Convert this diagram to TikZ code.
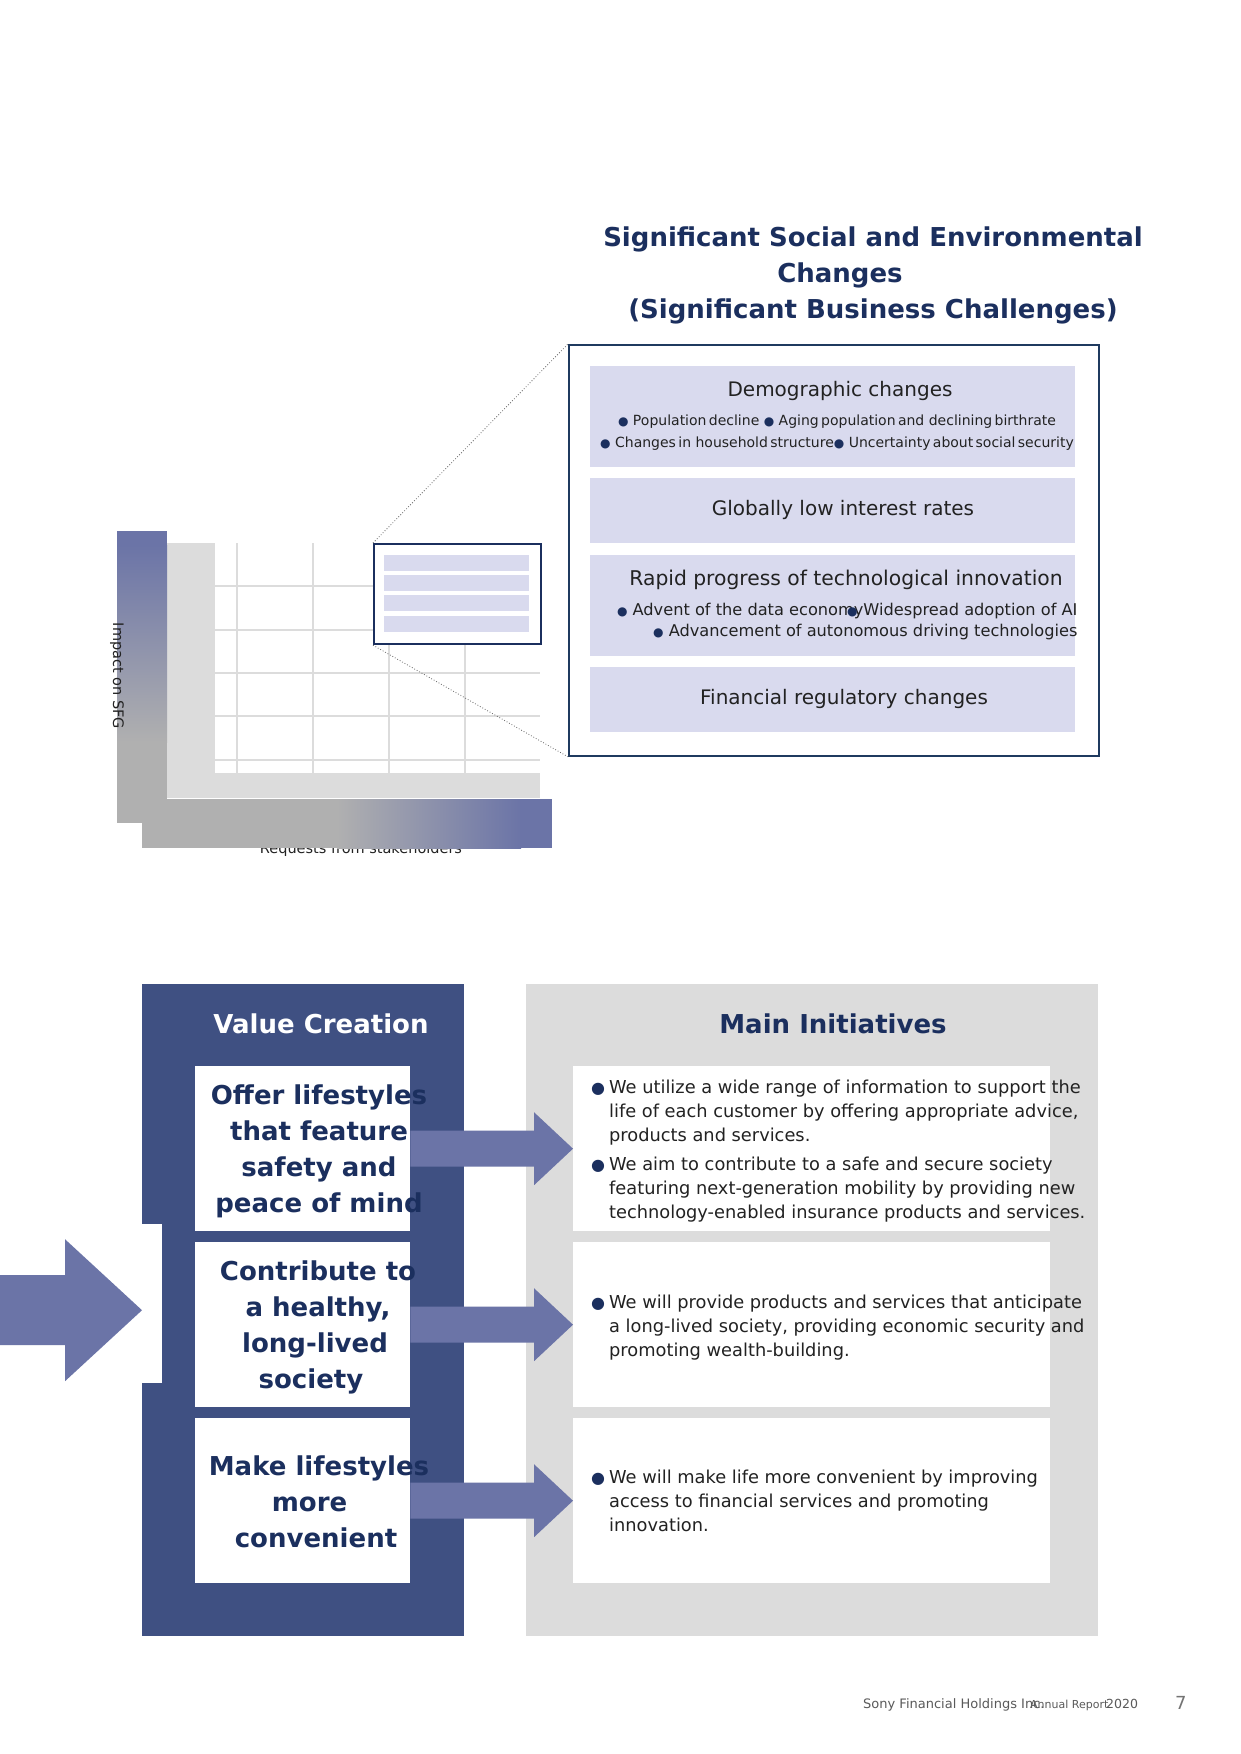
\documentclass[tikz,border=0pt]{standalone}
\usepackage{fontspec}
\setmainfont{DejaVu Sans}
\usetikzlibrary{calc}
\definecolor{sfgNavy}{HTML}{1B2F5E}
\definecolor{sfgFrame}{HTML}{1F3A5F}
\definecolor{sfgLavender}{HTML}{D9DAEE}
\definecolor{sfgPanel}{HTML}{3F5082}
\definecolor{sfgArrow}{HTML}{6B74A7}
\definecolor{sfgGrey}{HTML}{DCDCDC}
\definecolor{sfgBarGrey}{HTML}{B0B0B0}
\definecolor{sfgText}{HTML}{222222}
\definecolor{sfgFoot}{HTML}{5A5A5A}
\tikzset{
  page title/.style={font=\fontsize{26}{36}\selectfont\bfseries, text=sfgNavy, align=center},
  issue box/.style={fill=sfgLavender, minimum width=485pt, inner sep=0pt, anchor=north west},
  issue head/.style={font=\fontsize{20}{24}\selectfont, text=sfgText},
  issue points/.style={font=\fontsize{14}{22}\selectfont, text=sfgText},
  axis label/.style={font=\fontsize{14.5}{17}\selectfont, text=sfgText, inner sep=0pt},
  grid rule/.style={draw=sfgGrey, line width=1.6pt},
  zoom line/.style={draw=black!60, dotted, line width=0.8pt},
  heading/.style={font=\fontsize{26}{36}\selectfont\bfseries},
  value box/.style={fill=white, minimum width=215pt, minimum height=165pt, inner sep=0pt, anchor=north west},
  value text/.style={font=\fontsize{26}{36}\selectfont\bfseries, text=sfgNavy, align=center},
  initiative box/.style={fill=white, minimum width=477pt, minimum height=165pt, inner sep=0pt, anchor=north west},
  initiative text/.style={font=\fontsize{17.8}{24}\selectfont, text=sfgText, anchor=base west, inner sep=0pt},
  fat arrow/.style={fill=sfgArrow},
  footer/.style={text=sfgFoot, anchor=base west, inner sep=0pt}
}
\newcommand{\navyDot}{\textcolor{sfgNavy}{\fontsize{16}{16}\selectfont●}}
\newcommand{\smallDot}{\textcolor{sfgNavy}{\fontsize{12}{12}\selectfont●}}
\newcommand{\trail}[1]{\rule{#1}{0pt}}
\newcommand{\valueRow}[2]{%
  \node[value box] (#1) at (195,#2) {};%
  \node[initiative box] (#1ini) at (573,#2) {};%
}
\newcommand{\fatArrow}[2]{%
  \fill[fat arrow] ($(#1.east)+(0,-18)$) -- ($(#2.west)+(-39,-18)$)
    -- ($(#2.west)+(-39,-36.5)$) -- (#2.west) -- ($(#2.west)+(-39,36.5)$)
    -- ($(#2.west)+(-39,18)$) -- ($(#1.east)+(0,18)$) -- cycle;%
}

\begin{document}
\begin{tikzpicture}[x=1pt,y=-1pt]
  \useasboundingbox (0,0) rectangle (1241,1754);
  \fill[white] (0,0) rectangle (1241,1754);

  \node[page title] (title) at (873,275)
    {Significant Social and Environmental\\Changes\trail{66pt}\\(Significant Business Challenges)};

  % materiality chart
  \node[axis label, anchor=base] (xlab) at (361,853) {Requests from stakeholders};
  \fill[sfgGrey] (167,543) rectangle (540,798);
  \fill[white] (215,543) rectangle (540,773);
  \foreach \gx in {237,313,389,465}
    \draw[grid rule] (\gx,543) -- (\gx,773);
  \foreach \gy in {586,630,673,716,760}
    \draw[grid rule] (215,\gy) -- (540,\gy);
  \fill[sfgArrow] (117,531) rectangle (167,546);
  \shade[top color=sfgArrow, bottom color=sfgBarGrey] (117,545) rectangle (167,742);
  \fill[sfgBarGrey] (117,741) rectangle (167,823);
  \fill[sfgBarGrey] (142,799) rectangle (338,848);
  \shade[left color=sfgBarGrey, right color=sfgArrow] (337,799) rectangle (521,848);
  \fill[sfgArrow] (520,799) rectangle (552,848);
  \node[axis label, rotate=-90] (ylab) at (117,676) {Impact on SFG};

  \node[draw=sfgNavy, line width=2.2pt, fill=white, minimum width=167pt,
    minimum height=100pt, inner sep=0pt, anchor=north west] (zoombox) at (373,543) {};
  \foreach \by in {555,575,595,616}
    \fill[sfgLavender] (384,\by) rectangle (529,\by+16);

  % enlarged list of changes
  \node[draw=sfgFrame, line width=1.8pt, fill=white, minimum width=530pt,
    minimum height=411pt, inner sep=0pt, anchor=north west] (frame) at (568,344) {};
  \draw[zoom line] (zoombox.north west) -- (frame.north west);
  \draw[zoom line] (zoombox.south west) -- (frame.south west);

  \node[issue box, minimum height=101pt] (demo) at (590,366) {};
  \node[issue box, minimum height=65pt] (rates) at (590,478) {};
  \node[issue box, minimum height=101pt] (tech) at (590,555) {};
  \node[issue box, minimum height=65pt] (reg) at (590,667) {};

  \node[issue head] (demohead) at (840,391) {Demographic changes};
  \node[issue points, align=center] (demopts) at (837,433)
    {\smallDot\ Population\,decline \smallDot\ Aging\,population\,and declining\,birthrate\\
     \smallDot\ Changes\,in household\,structure\smallDot\ Uncertainty\,about\,social\,security};
  \node[issue head] (rateshead) at (843,510) {Globally low interest rates};
  \node[issue head, font=\fontsize{20.3}{24}\selectfont] (techhead) at (846,580) {Rapid progress of technological innovation};
  \node[issue points, font=\fontsize{16.2}{21}\selectfont, align=right, anchor=east] (techpts) at (1081,622)
    {\smallDot\ Advent of the data economy\llap{\smallDot\hspace{6pt}}Widespread adoption of AI\\
     \smallDot\ Advancement of autonomous driving technologies};
  \node[issue head] (reghead) at (844,699) {Financial regulatory changes};

  % value creation and initiatives
  \node[fill=sfgPanel, minimum width=322pt, minimum height=652pt, inner sep=0pt,
    anchor=north west] (vcpanel) at (142,984) {};
  \fill[white] (142,1224) rectangle (162,1383);
  \node[fill=sfgGrey, minimum width=572pt, minimum height=652pt, inner sep=0pt,
    anchor=north west] (mipanel) at (526,984) {};
  \node[heading, text=white] (vchead) at (321,1024) {Value Creation};
  \node[heading, text=sfgNavy] (mihead) at (833,1024) {Main Initiatives};

  \valueRow{safety}{1066}
  \valueRow{health}{1242}
  \valueRow{ease}{1418}

  \coordinate (feed) at (0,1310);
  \fill[fat arrow] ($(feed)+(0,-35)$) -- ($(vcpanel.west)+(-77,-35)$)
    -- ($(vcpanel.west)+(-77,-71)$) -- (vcpanel.west) -- ($(vcpanel.west)+(-77,71)$)
    -- ($(vcpanel.west)+(-77,35)$) -- ($(feed)+(0,35)$) -- cycle;
  \fatArrow{safety}{safetyini}
  \fatArrow{health}{healthini}
  \fatArrow{ease}{easeini}

  \node[value text] (safetytxt) at (319,1151) {Offer lifestyles\\that feature\\safety and\\peace of mind};
  \node[value text] (healthtxt) at (318,1327) {Contribute to\\a healthy,\\long-lived\trail{6pt}\\society\trail{14pt}};
  \node[value text] (easetxt) at (319,1502) {Make lifestyles\\more\trail{19pt}\\convenient\trail{6pt}};

  \node[initiative text] (safetypts) at (591,1093) {\begin{tabular}[t]{@{}l@{\hspace{4pt}}l@{}}
    \navyDot & We utilize a wide range of information to support the\\
    & life of each customer by offering appropriate advice,\\
    & products and services.\\[5pt]
    \navyDot & We aim to contribute to a safe and secure society\\
    & featuring next-generation mobility by providing new\\
    & technology-enabled insurance products and services.
  \end{tabular}};
  \node[initiative text] (healthpts) at (591,1308) {\begin{tabular}[t]{@{}l@{\hspace{4pt}}l@{}}
    \navyDot & We will provide products and services that anticipate\\
    & a long-lived society, providing economic security and\\
    & promoting wealth-building.
  \end{tabular}};
  \node[initiative text] (easepts) at (591,1483) {\begin{tabular}[t]{@{}l@{\hspace{4pt}}l@{}}
    \navyDot & We will make life more convenient by improving\\
    & access to financial services and promoting\\
    & innovation.
  \end{tabular}};

  % footer
  \node[footer, font=\fontsize{13}{13}\selectfont] (foot) at (863,1708) {Sony Financial Holdings Inc.};
  \node[footer, font=\fontsize{11}{11}\selectfont] (report) at (1030,1708) {Annual Report};
  \node[footer, font=\fontsize{12.5}{12.5}\selectfont] (year) at (1106,1708) {2020};
  \node[footer, font=\fontsize{18}{18}\selectfont, text=black!55] (pageno) at (1175,1709) {7};
\end{tikzpicture}
\end{document}
